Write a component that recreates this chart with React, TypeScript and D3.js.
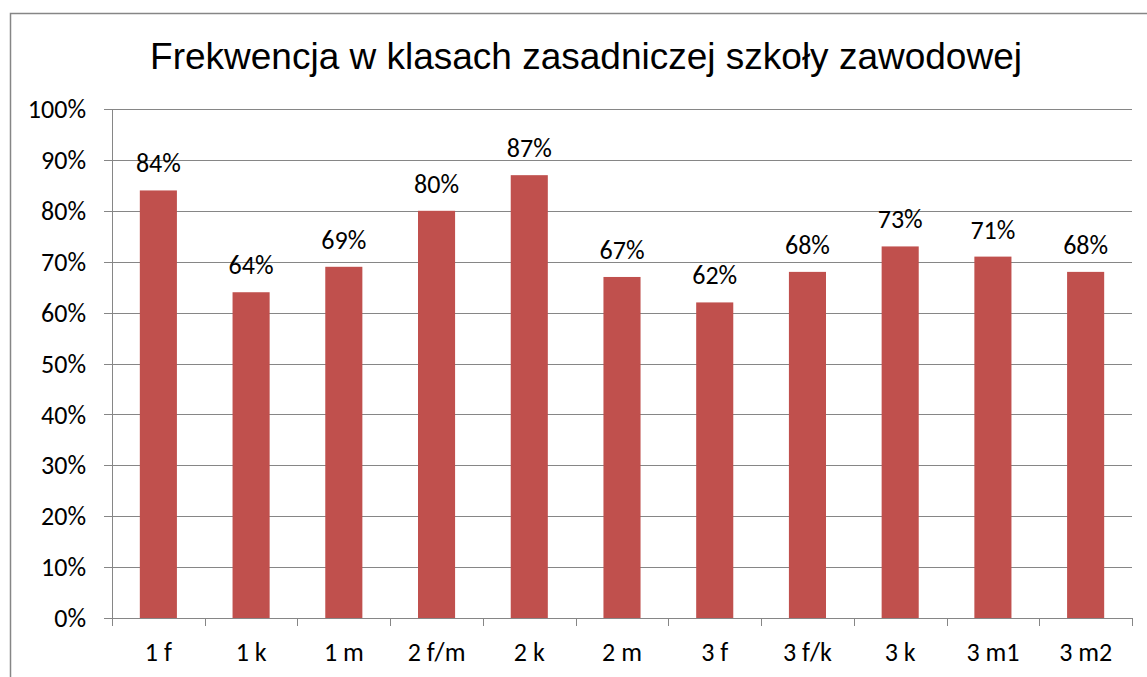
import React from "react";
import * as d3 from "d3";

const categories = ["1 f", "1 k", "1 m", "2 f/m", "2 k", "2 m", "3 f", "3 f/k", "3 k", "3 m1", "3 m2"];
const values = [84, 64, 69, 80, 87, 67, 62, 68, 73, 71, 68];
const yTicks = [0, 10, 20, 30, 40, 50, 60, 70, 80, 90, 100];
const title = "Frekwencja w klasach zasadniczej szkoły zawodowej";

const W = 1147;
const H = 677;
const left = 112;
const right = 1132;
const top = 109;
const bottom = 618;
const grid = "#868686";
const barColor = "#C0504D";
const labelFont = "Carlito, Lato, 'Open Sans', sans-serif";
const fs = 26;

export default function App() {
  const x = d3.scaleBand<string>().domain(categories).range([left, right]).paddingInner(0.6).paddingOuter(0.3);
  const xb = d3.scaleBand<string>().domain(categories).range([left, right]);
  const y = d3.scaleLinear().domain([0, 100]).range([bottom, top]);
  const ticksX = d3.range(categories.length + 1).map((i) => left + i * xb.step());

  return (
    <svg width={W} height={H} style={{ position: "absolute", left: 0, top: 0, background: "#fff" }}>
      <rect x={10.5} y={13.5} width={W + 10} height={H + 10} fill="#fff" stroke={grid} strokeWidth={1.5} />
      <text x={586} y={69} textAnchor="middle" fontFamily="'Liberation Sans', Arial, sans-serif" fontSize={37} fill="#000">
        {title}
      </text>
      {yTicks.map((t) => (
        <g key={t}>
          <line x1={104} x2={right} y1={Math.round(y(t)) + 0.5} y2={Math.round(y(t)) + 0.5} stroke={grid} strokeWidth={1} />
          <text x={86} y={y(t)} dy="0.35em" textAnchor="end" fontFamily={labelFont} fontSize={fs} fill="#000">
            {t}%
          </text>
        </g>
      ))}
      <line x1={left + 0.5} x2={left + 0.5} y1={top} y2={bottom} stroke={grid} strokeWidth={1} />
      {ticksX.map((tx, i) => (
        <line key={i} x1={Math.round(tx) + 0.5} x2={Math.round(tx) + 0.5} y1={bottom} y2={bottom + 8} stroke={grid} strokeWidth={1} />
      ))}
      {categories.map((c, i) => (
        <g key={c}>
          <rect x={x(c)!} y={y(values[i])} width={x.bandwidth()} height={bottom - y(values[i])} fill={barColor} />
          <text x={x(c)! + x.bandwidth() / 2} y={y(values[i]) - 18} textAnchor="middle" fontFamily={labelFont} fontSize={fs} fill="#000">
            {values[i]}%
          </text>
          <text x={xb(c)! + xb.bandwidth() / 2} y={661} textAnchor="middle" fontFamily={labelFont} fontSize={fs} fill="#000">
            {c}
          </text>
        </g>
      ))}
    </svg>
  );
}
